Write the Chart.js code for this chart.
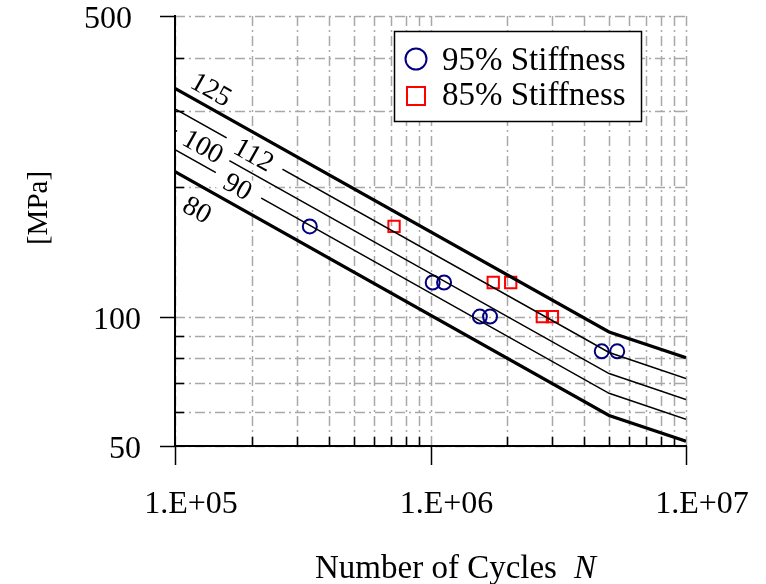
<!DOCTYPE html>
<html>
<head>
<meta charset="utf-8">
<script src="https://cdn.jsdelivr.net/npm/chart.js@4"></script>
<style>
  html, body { margin: 0; padding: 0; background: #fff; }
  #wrap { width: 766px; height: 584px; position: relative; }
</style>
</head>
<body>
<div id="wrap"><canvas id="c"></canvas></div>
<script>
// Detail-category S-N curves: stress range [MPa] at the listed cycle counts
const curveCycles = [1e5, 5e6, 1e7];
const curve125 = [339.3, 92.1, 80.2];
const curve112 = [304.0, 82.5, 71.8];
const curve100 = [271.4, 73.7, 64.1];
const curve90  = [244.3, 66.3, 57.7];
const curve80  = [217.2, 58.9, 51.3];
const categoryLabels = ['125', '112', '100', '90', '80'];

// Test results
const seriesNames = ['95% Stiffness', '85% Stiffness'];
const stiff95Cycles = [3.37e5, 1.02e6, 1.13e6, 1.56e6, 1.71e6, 4.68e6, 5.38e6];
const stiff95Stress = [162, 120, 120, 100, 100, 83, 83];
const stiff85Cycles = [7.2e5, 1.76e6, 2.06e6, 2.74e6, 3.0e6];
const stiff85Stress = [162, 120, 120, 100, 100];

// Axis ticks
const xTickValues = [1e5, 1e6, 1e7];
const xTickLabels = ['1.E+05', '1.E+06', '1.E+07'];
const xMinorValues = [2e5, 3e5, 4e5, 5e5, 6e5, 7e5, 8e5, 9e5, 2e6, 3e6, 4e6, 5e6, 6e6, 7e6, 8e6, 9e6];
const yTickValues = [50, 100, 500];
const yTickLabels = ['50', '100', '500'];
const yMinorValues = [60, 70, 80, 90, 200, 300, 400];
const xTitle = 'Number of Cycles';
const xTitleSymbol = 'N';
const yTitle = '[MPa]';

const SERIF = '"Liberation Serif", "Times New Roman", serif';
const NAVY = '#000080';
const RED = '#ff0000';

const curves = [curve125, curve112, curve100, curve90, curve80];
const toPoints = (xs, ys) => xs.map((v, i) => ({ x: v, y: ys[i] }));

// where each category number sits along its curve (cycles), vertical shift, and cleared length
const curveLabelPlacement = [
  { at: 1.39e5, dy: -20, gap: 0 },
  { at: 2.04e5, dy: 1, gap: 64 },
  { at: 1.29e5, dy: 0, gap: 60 },
  { at: 1.765e5, dy: 1, gap: 52 },
  { at: 1.225e5, dy: 25, gap: 0 }
];

const datasets = curves.map((c, i) => ({
  label: categoryLabels[i],
  data: toPoints(curveCycles, c),
  showLine: true,
  borderColor: '#000',
  borderWidth: (i === 0 || i === 4) ? 3.2 : 1.5,
  pointRadius: 0,
  fill: false,
  tension: 0
}));
datasets.push({
  label: seriesNames[0],
  data: toPoints(stiff95Cycles, stiff95Stress),
  showLine: false,
  pointStyle: 'circle',
  pointRadius: 7,
  pointBorderWidth: 2,
  borderColor: NAVY,
  pointBorderColor: NAVY,
  backgroundColor: 'rgba(0,0,0,0)',
  pointBackgroundColor: 'rgba(0,0,0,0)'
});
datasets.push({
  label: seriesNames[1],
  data: toPoints(stiff85Cycles, stiff85Stress),
  showLine: false,
  pointStyle: 'rect',
  pointRadius: 8,
  pointBorderWidth: 2,
  borderColor: RED,
  pointBorderColor: RED,
  backgroundColor: 'rgba(0,0,0,0)',
  pointBackgroundColor: 'rgba(0,0,0,0)'
});

function seg(ctx, x1, y1, x2, y2) {
  ctx.beginPath(); ctx.moveTo(x1, y1); ctx.lineTo(x2, y2); ctx.stroke();
}

const decor = {
  id: 'decor',
  beforeDatasetsDraw(chart) {
    const { ctx, chartArea: a, scales: { x, y } } = chart;
    ctx.save();
    ctx.strokeStyle = '#a8a8a8';
    ctx.lineWidth = 1.5;
    ctx.setLineDash([10, 4, 2, 4]);
    [...xTickValues, ...xMinorValues].forEach(v => {
      const px = Math.round(x.getPixelForValue(v)) + 0.5;
      seg(ctx, px, a.bottom, px, a.top);
    });
    [...yTickValues, ...yMinorValues].forEach(v => {
      const py = Math.round(y.getPixelForValue(v)) + 0.5;
      seg(ctx, a.left, py, a.right, py);
    });
    ctx.restore();
  },
  afterDatasetsDraw(chart) {
    const { ctx, chartArea: a, scales: { x, y } } = chart;
    ctx.save();

    // category numbers written along the curves
    const labelSize = 28;
    ctx.font = labelSize + 'px ' + SERIF;
    curves.forEach((c, i) => {
      const p = curveLabelPlacement[i];
      const x0 = x.getPixelForValue(curveCycles[0]), y0 = y.getPixelForValue(c[0]);
      const x1 = x.getPixelForValue(curveCycles[1]), y1 = y.getPixelForValue(c[1]);
      const ang = Math.atan2(y1 - y0, x1 - x0);
      const px = x.getPixelForValue(p.at);
      const py = y0 + (px - x0) * (y1 - y0) / (x1 - x0) + p.dy;
      const tw = ctx.measureText(categoryLabels[i]).width;
      const bw = Math.max(p.gap, tw + 8);
      ctx.save();
      ctx.translate(px, py);
      ctx.rotate(ang);
      ctx.fillStyle = '#fff';
      ctx.fillRect(-bw / 2, -12, bw, 24);
      ctx.fillStyle = '#000';
      ctx.textAlign = 'center';
      ctx.textBaseline = 'alphabetic';
      ctx.fillText(categoryLabels[i], 0, labelSize * 0.33);
      ctx.restore();
    });

    // axis lines
    ctx.strokeStyle = '#000';
    ctx.lineWidth = 2;
    ctx.setLineDash([]);
    seg(ctx, a.left, a.top - 1, a.left, a.bottom + 1);
    seg(ctx, a.left - 1, a.bottom, a.right + 1, a.bottom);

    // ticks: major outward, minor inward
    ctx.lineWidth = 1.5;
    xTickValues.forEach(v => {
      const px = Math.round(x.getPixelForValue(v)) + 0.5;
      seg(ctx, px, a.bottom, px, a.bottom + 19);
    });
    xMinorValues.forEach(v => {
      const px = Math.round(x.getPixelForValue(v)) + 0.5;
      seg(ctx, px, a.bottom, px, a.bottom - 9);
    });
    yTickValues.forEach(v => {
      const py = Math.round(y.getPixelForValue(v)) + 0.5;
      seg(ctx, a.left - 15, py, a.left, py);
    });
    yMinorValues.forEach(v => {
      const py = Math.round(y.getPixelForValue(v)) + 0.5;
      seg(ctx, a.left, py, a.left + 9, py);
    });

    // tick labels
    ctx.fillStyle = '#000';
    ctx.font = '32px ' + SERIF;
    ctx.textBaseline = 'alphabetic';
    ctx.textAlign = 'center';
    xTickValues.forEach((v, i) => {
      ctx.fillText(xTickLabels[i], x.getPixelForValue(v) + 16, a.bottom + 67);
    });
    ctx.textAlign = 'right';
    yTickValues.forEach((v, i) => {
      // the top label is kept clear of the plot corner
      const gap = (i === yTickValues.length - 1) ? 43 : 34;
      ctx.fillText(yTickLabels[i], a.left - gap, y.getPixelForValue(v) + 12);
    });

    // axis titles
    ctx.textAlign = 'left';
    ctx.font = '33px ' + SERIF;
    ctx.fillText(xTitle, 315, 578);
    ctx.font = 'italic 33px ' + SERIF;
    ctx.fillText(xTitleSymbol, 574, 578);
    ctx.save();
    ctx.translate(47, 208);
    ctx.rotate(-Math.PI / 2);
    ctx.textAlign = 'center';
    ctx.font = '29px ' + SERIF;
    ctx.fillText(yTitle, 0, 0);
    ctx.restore();

    // legend
    const lx = 394, ly = 31, lw = 247, lh = 90;
    ctx.fillStyle = '#fff';
    ctx.fillRect(lx, ly, lw, lh);
    ctx.strokeStyle = '#000';
    ctx.lineWidth = 1.5;
    ctx.strokeRect(lx + 0.5, ly + 0.5, lw, lh);
    ctx.lineWidth = 2;
    ctx.strokeStyle = NAVY;
    ctx.beginPath(); ctx.arc(416, 59, 10.5, 0, Math.PI * 2); ctx.stroke();
    ctx.strokeStyle = RED;
    ctx.strokeRect(407, 87, 18, 18);
    ctx.fillStyle = '#000';
    ctx.font = '33px ' + SERIF;
    ctx.textAlign = 'left';
    ctx.fillText(seriesNames[0], 442, 70);
    ctx.fillText(seriesNames[1], 442, 105);

    ctx.restore();
  }
};

new Chart(document.getElementById('c'), {
  type: 'scatter',
  data: { datasets },
  options: {
    responsive: true,
    maintainAspectRatio: false,
    devicePixelRatio: 1,
    animation: false,
    layout: { padding: { left: 175, right: 80, top: 16, bottom: 138 } },
    plugins: { legend: { display: false }, tooltip: { enabled: false } },
    scales: {
      x: { type: 'logarithmic', min: 1e5, max: 1e7, display: false },
      y: { type: 'logarithmic', min: 50, max: 500, display: false }
    }
  },
  plugins: [decor]
});
</script>
</body>
</html>
